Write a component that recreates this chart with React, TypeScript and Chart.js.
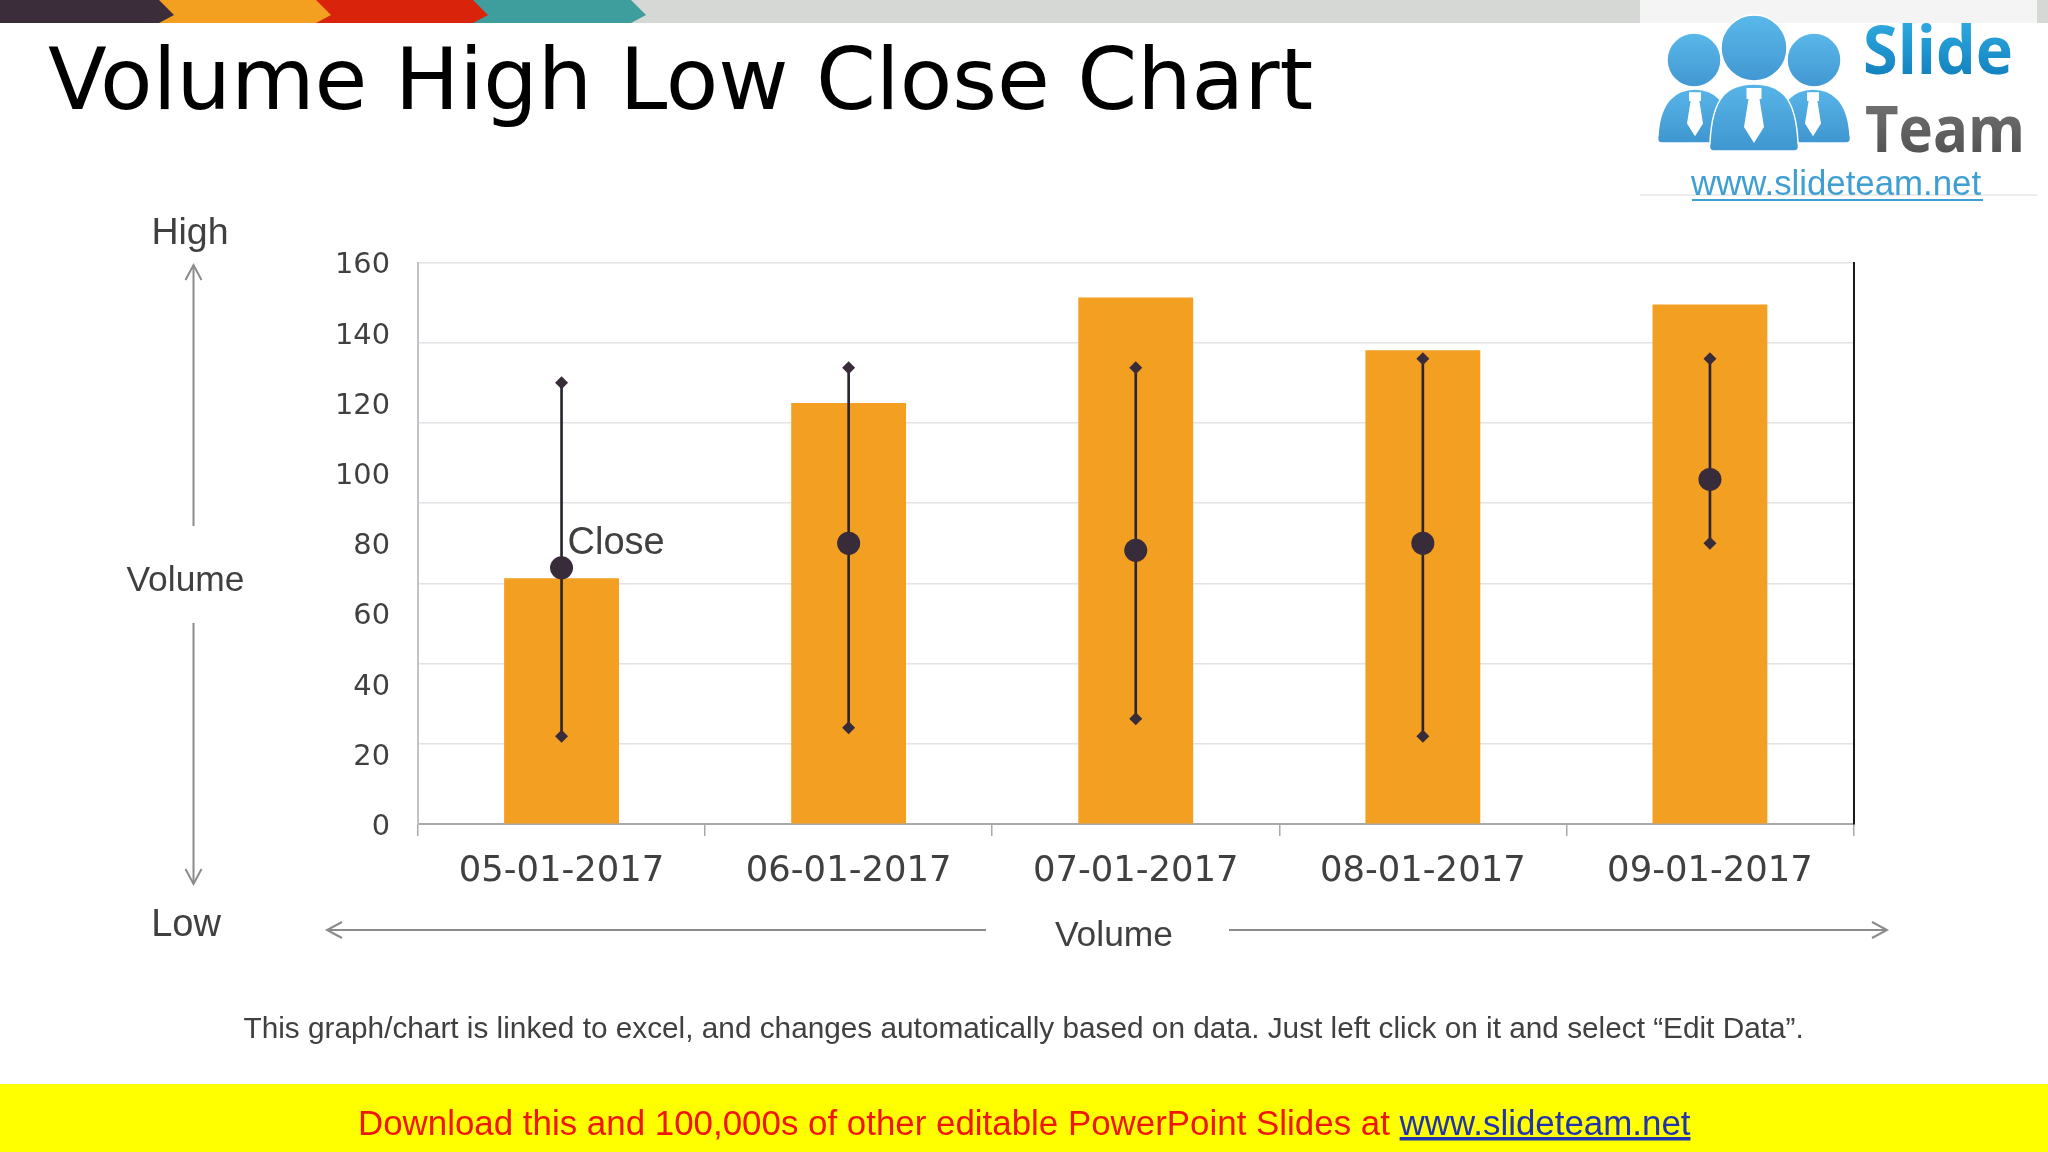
import React, { useEffect, useRef } from "react";
import { Chart, registerables } from "chart.js";

Chart.register(...registerables);

const categories = ["05-01-2017", "06-01-2017", "07-01-2017", "08-01-2017", "09-01-2017"];
const volume = [70, 120, 150, 135, 148];
const high = [125.7, 130, 130, 132.6, 132.6];
const low = [25, 27.4, 30, 25, 80];
const close = [73, 80, 78, 80, 98.2];
const closeLabel = "Close";
const yMin = 0;
const yMax = 160;
const yStep = 20;
const gridMax = 140;
const gridStep = 20;

const DARK = "#392c3a";
const LINE = "#2c2530";
const ORANGE = "#f39f21";
const ARROW = "#8b8b8b";
const TEXT = "#404040";
const SANS = "'Liberation Sans', Arial, sans-serif";
const DEJAVU = "'DejaVu Sans', sans-serif";

const closeLabelPlugin = {
  id: "closeLabel",
  afterDatasetsDraw(chart: any) {
    const idx = chart.data.datasets.findIndex((d: any) => d.label === "Close");
    const pt = chart.getDatasetMeta(idx).data[0];
    const ctx = chart.ctx;
    ctx.save();
    ctx.font = `38px ${SANS}`;
    ctx.fillStyle = TEXT;
    ctx.textAlign = "left";
    ctx.textBaseline = "middle";
    ctx.fillText(closeLabel, pt.x + 6, pt.y - 24);
    ctx.restore();
  },
};

function Arrow({ x1, y1, x2, y2 }: { x1: number; y1: number; x2: number; y2: number }) {
  const a = Math.atan2(y2 - y1, x2 - x1);
  const len = 17;
  const spread = 0.49;
  const p1 = [x2 - len * Math.cos(a - spread), y2 - len * Math.sin(a - spread)];
  const p2 = [x2 - len * Math.cos(a + spread), y2 - len * Math.sin(a + spread)];
  return (
    <g stroke={ARROW} strokeWidth={2} fill="none">
      <line x1={x1} y1={y1} x2={x2} y2={y2} />
      <polyline points={`${p1[0]},${p1[1]} ${x2},${y2} ${p2[0]},${p2[1]}`} />
    </g>
  );
}

function Person({ cx, cy, r, left, right, top, bottom, s }: any) {
  const mid = (left + right) / 2;
  const body = `M${left + 4} ${bottom} Q${left - 2} ${bottom} ${left} ${bottom - 8} C${left + 2} ${top + 12} ${left + 18} ${top} ${mid} ${top} C${right - 18} ${top} ${right - 2} ${top + 12} ${right} ${bottom - 8} Q${right + 2} ${bottom} ${right - 4} ${bottom} Z`;
  const t = top + 4 * s;
  const tie = `M${mid - 7.5 * s} ${t} h${15 * s} v${11 * s} l${-2 * s} 0 l${4.5 * s} ${28 * s} l${-10 * s} ${16 * s} l${-10 * s} ${-16 * s} l${4.5 * s} ${-28 * s} l${-2 * s} 0 Z`;
  return (
    <g>
      <circle cx={cx} cy={cy} r={r} fill="url(#headG)" stroke="#ffffff" strokeWidth={1.5} />
      <path d={body} fill="url(#bodyG)" stroke="#ffffff" strokeWidth={1.5} />
      <path d={tie} fill="#ffffff" />
    </g>
  );
}

export default function App() {
  const ref = useRef<HTMLCanvasElement | null>(null);

  useEffect(() => {
    document.body.style.margin = "0";
    document.body.style.background = "#ffffff";
    const chart = new Chart(ref.current as HTMLCanvasElement, {
      type: "bar",
      data: {
        labels: categories,
        datasets: [
          {
            type: "bar",
            label: "Volume",
            data: volume,
            backgroundColor: ORANGE,
            categoryPercentage: 1,
            barPercentage: 0.4,
            grouped: false,
            order: 5,
          },
          {
            type: "bar",
            label: "High-Low",
            data: low.map((l, i) => [l, high[i]]),
            backgroundColor: LINE,
            barThickness: 2,
            grouped: false,
            order: 4,
          },
          {
            type: "line",
            label: "High",
            data: high,
            showLine: false,
            pointStyle: "rectRot",
            pointRadius: 6.5,
            backgroundColor: DARK,
            borderColor: DARK,
            borderWidth: 0,
            order: 3,
          },
          {
            type: "line",
            label: "Low",
            data: low,
            showLine: false,
            pointStyle: "rectRot",
            pointRadius: 6.5,
            backgroundColor: DARK,
            borderColor: DARK,
            borderWidth: 0,
            order: 2,
          },
          {
            type: "line",
            label: "Close",
            data: close,
            showLine: false,
            pointStyle: "circle",
            pointRadius: 11.5,
            backgroundColor: DARK,
            borderColor: DARK,
            borderWidth: 0,
            order: 1,
          },
        ],
      } as any,
      options: {
        responsive: false,
        animation: false,
        devicePixelRatio: 1,
        layout: { padding: { left: 418 - 110, right: 2048 - 1853.5, top: 262.5, bottom: 1152 - 824 - 90 } },
        plugins: { legend: { display: false }, tooltip: { enabled: false }, title: { display: false } },
        scales: {
          x: {
            type: "category",
            offset: true,
            afterFit(s: any) { s.height = 90; },
            grid: {
              offset: true,
              drawOnChartArea: false,
              drawTicks: true,
              tickLength: 12,
              color: "#a9a9a9",
              lineWidth: 1.5,
            },
            border: { color: "#a9a9a9", width: 2 },
            ticks: {
              font: { family: "DejaVu Sans", size: 35.4 },
              color: TEXT,
              padding: 15,
              maxRotation: 0,
              autoSkip: false,
            },
          },
          y: {
            type: "linear",
            position: "left",
            min: yMin,
            max: yMax,
            afterFit(s: any) { s.width = 110; },
            ticks: {
              stepSize: yStep,
              font: { family: "DejaVu Sans", size: 28.8 },
              color: TEXT,
              padding: 28,
              labelOffset: 3.5,
            },
            grid: { drawOnChartArea: false, drawTicks: false },
            border: { color: "#c2c2c8", width: 2 },
          },
          yGrid: {
            type: "linear",
            position: "right",
            min: 0,
            max: gridMax,
            afterFit(s: any) { s.width = 0; },
            ticks: { stepSize: gridStep, display: false },
            grid: { color: "#e2e2e7", lineWidth: 1.5, drawTicks: false },
            border: { color: "#1a1a1a", width: 2 },
          },
        },
      } as any,
      plugins: [closeLabelPlugin],
    });
    return () => chart.destroy();
  }, []);

  const chevrons = [
    { color: "#3b2d3a", from: -20, to: 174 },
    { color: "#f3a021", from: 158, to: 331 },
    { color: "#d9230a", from: 315, to: 488 },
    { color: "#3e9e9d", from: 472, to: 646 },
  ];

  return (
    <div style={{ position: "fixed", left: 0, top: 0, width: 2048, height: 1152, overflow: "hidden", background: "#fff" }}>
      <canvas ref={ref} width={2048} height={1152} style={{ position: "absolute", left: 0, top: 0, width: 2048, height: 1152 }} />
      <svg width={2048} height={1152} style={{ position: "absolute", left: 0, top: 0 }}>
        <defs>
          <linearGradient id="slideG" x1="0" y1="0" x2="0" y2="1">
            <stop offset="0" stopColor="#38b6ea" />
            <stop offset="1" stopColor="#0a76b5" />
          </linearGradient>
          <linearGradient id="teamG" x1="0" y1="0" x2="0" y2="1">
            <stop offset="0" stopColor="#7b7b7b" />
            <stop offset="1" stopColor="#4a4a4a" />
          </linearGradient>
          <linearGradient id="headG" x1="0" y1="0" x2="0" y2="1">
            <stop offset="0" stopColor="#5ab8ea" />
            <stop offset="1" stopColor="#4297d2" />
          </linearGradient>
          <linearGradient id="bodyG" x1="0" y1="0" x2="0" y2="1">
            <stop offset="0" stopColor="#58b5e8" />
            <stop offset="1" stopColor="#3f96d0" />
          </linearGradient>
        </defs>

        <rect x={0} y={0} width={2048} height={23} fill="#d6d8d5" />
        {[...chevrons].reverse().map((c) => (
          <polygon
            key={c.color}
            points={`${c.from},0 ${c.to - 15},0 ${c.to},15 ${c.to - 15},23 ${c.from},23`}
            fill={c.color}
          />
        ))}
        <rect x={1640} y={0} width={397} height={23} fill="#f3f4f3" />
        <line x1={1640} y1={195} x2={2037} y2={195} stroke="#d8d8d8" strokeWidth={1} />

        <Person cx={1694} cy={60} r={27} left={1658} right={1732} top={89} bottom={143} s={0.8} />
        <Person cx={1814} cy={60} r={27} left={1776} right={1850} top={89} bottom={143} s={0.8} />
        <Person cx={1754} cy={48} r={33} left={1710} right={1798} top={84} bottom={151} s={1} />
        <text x={1863} y={74} fontFamily="'Open Sans', sans-serif" fontWeight={700} fontSize={66} fill="url(#slideG)" textLength={150} lengthAdjust="spacingAndGlyphs">Slide</text>
        <text x={1865} y={152} fontFamily="'Open Sans', sans-serif" fontWeight={700} fontSize={64} fill="url(#teamG)" textLength={160} lengthAdjust="spacingAndGlyphs">Team</text>
        <text x={1691} y={195} fontFamily={SANS} fontSize={34.8} fill="#3f9fd2">www.slideteam.net</text>
        <line x1={1692} y1={200} x2={1983} y2={200} stroke="#3f9fd2" strokeWidth={2} />

        <text x={48} y={109} fontFamily={DEJAVU} fontSize={85.9} fill="#000">Volume High Low Close Chart</text>

        <Arrow x1={193.5} y1={526} x2={193.5} y2={265} />
        <Arrow x1={193.5} y1={623} x2={193.5} y2={884} />
        <Arrow x1={986} y1={930} x2={327} y2={930} />
        <Arrow x1={1229} y1={930} x2={1887} y2={930} />

        <g fontFamily={SANS} fontSize={37.5} fill={TEXT} textAnchor="middle">
          <text x={190} y={244}>High</text>
          <text x={185.5} y={591} fontSize={35.4}>Volume</text>
          <text x={186} y={936} fontSize={38}>Low</text>
          <text x={1114} y={946} fontSize={35.4}>Volume</text>
        </g>

        <text x={243.5} y={1038} fontFamily={SANS} fontSize={29.78} fill={TEXT}>
          This graph/chart is linked to excel, and changes automatically based on data. Just left click on it and select “Edit Data”.
        </text>

        <rect x={0} y={1084} width={2048} height={68} fill="#ffff00" />
        <text x={358} y={1135} fontFamily={SANS} fontSize={34.9} fill="#f0160a">
          Download this and 100,000s of other editable PowerPoint Slides at{" "}
          <tspan fill="#2233b0" textDecoration="underline">www.slideteam.net</tspan>
        </text>
      </svg>
    </div>
  );
}
